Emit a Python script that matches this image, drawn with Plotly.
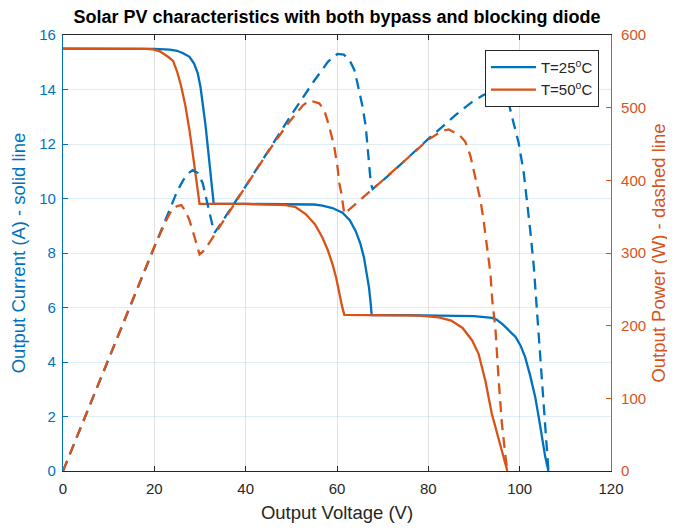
import plotly.graph_objects as go

# ---- Data ----
# T = 25 C current (A) vs voltage (V)
v_i25 = [0, 10, 20, 23.4, 25, 26.3, 27.7, 28.7, 29.5, 30.1, 30.6, 31.2, 31.7, 32.3, 32.8, 33.0,
         40, 50, 55, 56.8, 59, 61.2, 62.8, 64.1, 65.1, 65.9, 66.5, 67.0, 67.35, 67.6,
         75, 85, 90, 94, 95, 96.3, 97.6, 99.1, 100.2, 101.2, 102.3, 103.4, 104.2, 104.9, 105.6, 106.3]
i25 = [15.5, 15.5, 15.49, 15.46, 15.42, 15.33, 15.2, 14.95, 14.6, 14.1, 13.5, 12.7, 11.9, 10.9, 10.1, 9.8,
       9.8, 9.79, 9.78, 9.74, 9.65, 9.48, 9.2, 8.8, 8.35, 7.84, 7.3, 6.74, 6.2, 5.72,
       5.72, 5.71, 5.68, 5.62, 5.55, 5.38, 5.16, 4.92, 4.6, 4.18, 3.5, 2.72, 1.95, 1.25, 0.52, 0.0]

# T = 50 C current (A) vs voltage (V)
v_i50 = [0, 10, 18, 19.7, 21.2, 23.0, 24.1, 25.0, 25.9, 26.8, 27.7, 28.7, 29.4, 29.9,
         40, 45, 48.8, 51, 53.2, 55.2, 56.8, 58.0, 59.0, 59.8, 60.5, 61.1, 61.6,
         70, 78, 82.3, 85, 87.5, 89.6, 91.0, 92.5, 93.9, 95.3, 96.5, 97.3]
i50 = [15.5, 15.5, 15.49, 15.47, 15.4, 15.2, 15.05, 14.65, 14.1, 13.4, 12.5, 11.3, 10.4, 9.8,
       9.8, 9.79, 9.76, 9.68, 9.42, 9.05, 8.57, 8.1, 7.6, 7.1, 6.5, 6.05, 5.73,
       5.72, 5.70, 5.64, 5.52, 5.25, 4.79, 4.3, 3.3, 2.1, 1.2, 0.52, 0.0]

# T = 25 C power (W) vs voltage (V)
v_p25 = [0, 10, 20, 24, 25, 26.3, 27.5, 28.4, 29.5, 30.6, 31.4, 32.1, 32.8, 33.2, 34.3,
         40, 45, 50, 55, 58, 60.1, 61.5, 62.7, 63.8, 64.5, 65.6, 66.3, 66.7, 67.0, 67.4, 67.8,
         71, 75, 80, 86, 89.6, 92, 94.5, 96, 97.6, 98.7, 99.8, 100.9, 101.6, 102.3, 103.1,
         103.4, 104.2, 104.9, 105.6, 106.3]
p25 = [0, 155, 310, 371, 385, 400, 410, 414, 410, 396, 373, 355, 336, 328, 338,
       392, 441, 490, 537, 563, 574, 573, 566, 552, 533, 501, 474, 446, 419, 396, 388,
       405, 428, 457, 490, 508, 517, 525, 520, 506, 478, 451, 410, 373, 332, 281,
       254, 189, 125, 56, 0]

# T = 50 C power (W) vs voltage (V)
v_p50 = [0, 10, 20, 23, 24.1, 25.2, 25.9, 26.8, 27.7, 28.8, 29.9, 31,
         40, 45, 49, 51, 52.5, 54, 56.1, 57.2, 58.3, 59.4, 60.1, 60.5, 60.9, 61.6,
         65.9, 70, 75, 80, 83, 84.5, 87, 88.1, 89.2, 90.3, 91.4, 92.1, 92.9, 93.6,
         94.0, 94.7, 95.4, 96.1, 96.9, 97.3]
p50 = [0, 155, 309, 350, 362, 365, 366, 358, 345, 322, 298, 304,
       392, 440, 476, 491, 503, 510, 506, 497, 474, 446, 419, 396, 384, 354,
       377, 400, 428, 456, 468, 470, 461, 453, 434, 405, 373, 345, 304, 272,
       235, 195, 125, 66, 20, 0]

legend_names = ["T=25<sup>o</sup>C", "T=50<sup>o</sup>C"]
x_ticks = [0, 20, 40, 60, 80, 100, 120]
y_ticks = [0, 2, 4, 6, 8, 10, 12, 14, 16]
y2_ticks = [0, 100, 200, 300, 400, 500, 600]

BLUE = "#0072BD"
ORANGE = "#D95319"
DARK = "#262626"
FONT = "Liberation Sans, Arial, sans-serif"

fig = go.Figure()
fig.add_trace(go.Scatter(x=v_i25, y=i25, mode="lines", name=legend_names[0],
                         line=dict(color=BLUE, width=2.3), yaxis="y"))
fig.add_trace(go.Scatter(x=v_i50, y=i50, mode="lines", name=legend_names[1],
                         line=dict(color=ORANGE, width=2.3), yaxis="y"))
fig.add_trace(go.Scatter(x=v_p25, y=p25, mode="lines", showlegend=False,
                         line=dict(color=BLUE, width=2.3, dash="11px,7px"), yaxis="y2"))
fig.add_trace(go.Scatter(x=v_p50, y=p50, mode="lines", showlegend=False,
                         line=dict(color=ORANGE, width=2.3, dash="11px,7px"), yaxis="y2"))

fig.update_layout(
    width=675, height=529,
    margin=dict(l=55, r=72, t=27, b=66, autoexpand=False),
    paper_bgcolor="white", plot_bgcolor="white",
    font=dict(family=FONT, size=15, color=DARK),
    title=dict(text="<b>Solar PV characteristics with both bypass and blocking diode</b>",
               x=0.5, xref="paper", xanchor="center",
               y=0.983, yref="container", yanchor="middle",
               font=dict(family=FONT, size=18, color="black")),
    xaxis=dict(range=[0, 120], tickvals=x_ticks, ticks="inside", ticklen=5,
               tickcolor=DARK, showline=True, linecolor=DARK, linewidth=1, mirror="ticks",
               showgrid=True, gridcolor="#e1e1e1", zeroline=False, ticklabelstandoff=4,
               tickfont=dict(size=15, color=DARK),
               title=dict(text="Output Voltage (V)", font=dict(size=18.5, color=DARK), standoff=10)),
    yaxis=dict(range=[0, 16], tickvals=y_ticks, ticks="inside", ticklen=5,
               tickcolor=BLUE, showline=True, linecolor=BLUE, linewidth=1.2,
               showgrid=True, gridcolor="rgba(0,114,189,0.13)", zeroline=False,
               ticklabelstandoff=3,
               tickfont=dict(size=15, color=BLUE),
               title=dict(text="Output Current (A) - solid line", font=dict(size=18.5, color=BLUE),
                          standoff=8)),
    yaxis2=dict(range=[0, 600], tickvals=y2_ticks, ticks="inside", ticklen=5,
                tickcolor=ORANGE, showline=True, linecolor=ORANGE, linewidth=1.2,
                overlaying="y", side="right", showgrid=False, zeroline=False,
                ticklabelstandoff=6,
                tickfont=dict(size=15, color=ORANGE),
                title=dict(text="Output Power (W) - dashed line", font=dict(size=18.5, color=ORANGE),
                           standoff=6)),
    legend=dict(x=0.978, xanchor="right", y=0.966, yanchor="top",
                bgcolor="white", bordercolor=DARK, borderwidth=1, itemwidth=45,
                font=dict(size=15, color=DARK), tracegroupgap=2),
    showlegend=True,
)

fig.write_html("out.html")
